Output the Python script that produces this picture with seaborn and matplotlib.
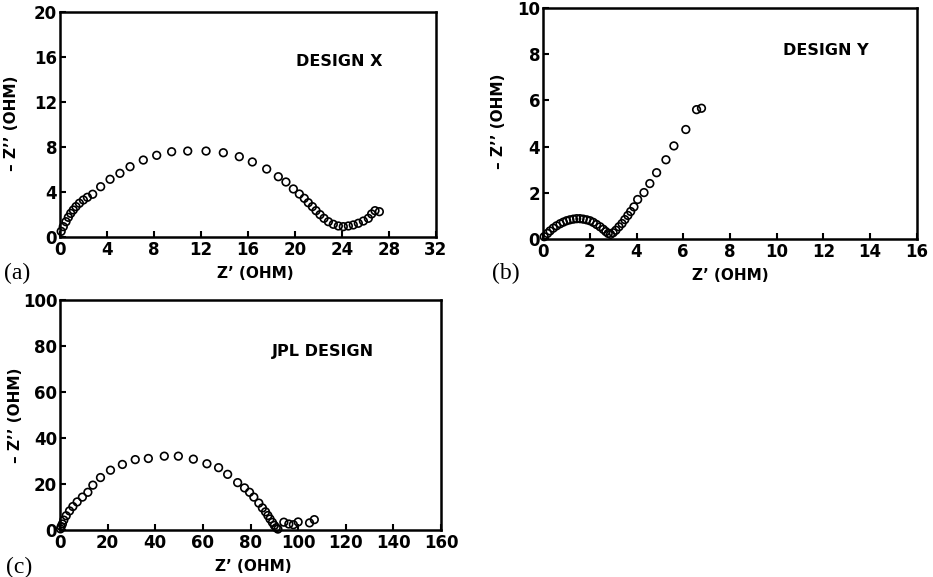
import matplotlib
matplotlib.use("Agg")
import matplotlib.pyplot as plt
import seaborn as sns
import pandas as pd

# ---------------- data ----------------
# (a) DESIGN X
x_a = [0.1, 0.28, 0.51, 0.71, 0.91, 1.13, 1.36, 1.65, 1.99, 2.33, 2.78, 3.46, 4.26,
       5.1, 5.96, 7.09, 8.23, 9.5, 10.87, 12.43, 13.9, 15.26, 16.37, 17.59, 18.58,
       19.23, 19.86, 20.37, 20.79, 21.13, 21.48, 21.79, 22.13, 22.47, 22.84, 23.26,
       23.69, 24.11, 24.54, 24.96, 25.39, 25.82, 26.24, 26.52, 26.81, 27.18]
y_a = [0.5, 0.92, 1.36, 1.75, 2.1, 2.4, 2.7, 3.0, 3.29, 3.53, 3.8, 4.47, 5.13,
       5.66, 6.25, 6.84, 7.26, 7.58, 7.64, 7.64, 7.49, 7.14, 6.67, 6.04, 5.36,
       4.89, 4.27, 3.82, 3.44, 3.05, 2.7, 2.34, 1.99, 1.66, 1.36, 1.13,
       0.98, 0.92, 0.98, 1.07, 1.22, 1.42, 1.66, 2.05, 2.34, 2.25]

# (b) DESIGN Y
x_b = [0.05, 0.19, 0.3, 0.44, 0.58, 0.73, 0.87, 1.01, 1.15, 1.3, 1.44, 1.58, 1.72,
       1.87, 2.01, 2.15, 2.29, 2.44, 2.58, 2.69, 2.79, 2.89, 3.0, 3.12, 3.25,
       3.38, 3.5, 3.63, 3.75, 3.89, 4.05, 4.32, 4.57, 4.86, 5.26, 5.6, 6.11,
       6.57, 6.78]
y_b = [0.1, 0.24, 0.35, 0.47, 0.57, 0.66, 0.73, 0.79, 0.83, 0.86, 0.88, 0.88, 0.86,
       0.83, 0.79, 0.72, 0.63, 0.53, 0.42, 0.32, 0.24, 0.2, 0.27, 0.38, 0.53,
       0.67, 0.84, 1.02, 1.19, 1.39, 1.71, 2.01, 2.4, 2.87, 3.43, 4.03, 4.74,
       5.6, 5.66]

# (c) JPL DESIGN
x_c = [0.2, 0.5, 1.0, 1.6, 2.6, 4.0, 5.4, 7.2, 9.4, 11.7, 13.8, 17.0, 21.2, 26.2,
       31.6, 37.1, 43.8, 49.7, 56.0, 61.7, 66.6, 70.4, 74.6, 77.5, 79.6, 81.4,
       83.5, 85.0, 86.3, 87.3, 88.2, 89.2, 90.0, 90.8, 91.5, 94.0, 96.1, 98.0,
       100.0, 104.8, 106.8]
y_c = [0.5, 1.5, 2.6, 4.3, 6.2, 8.3, 10.2, 12.2, 14.3, 16.4, 19.5, 22.8, 26.0, 28.5,
       30.6, 31.1, 32.1, 32.1, 30.8, 28.8, 27.1, 24.2, 20.6, 18.3, 16.4, 14.3,
       11.7, 9.6, 7.9, 6.3, 4.8, 3.3, 2.0, 1.0, 0.4, 3.4, 2.6, 2.3,
       3.5, 3.1, 4.5]

titles = ["DESIGN X", "DESIGN Y", "JPL DESIGN"]
panel_tags = ["(a)", "(b)", "(c)"]
x_ticks = [list(range(0, 33, 4)), list(range(0, 17, 2)), list(range(0, 161, 20))]
y_ticks = [list(range(0, 21, 4)), list(range(0, 11, 2)), list(range(0, 101, 20))]
x_label = "Z’ (OHM)"
y_label = "– Z’’ (OHM)"

# ---------------- style ----------------
sns.set_style("white")
plt.rcParams["font.family"] = ["DejaVu Sans"]
plt.rcParams["font.weight"] = "bold"
plt.rcParams["text.color"] = "black"
plt.rcParams["axes.labelcolor"] = "black"
plt.rcParams["xtick.color"] = "black"
plt.rcParams["ytick.color"] = "black"

fig = plt.figure(figsize=(9.33, 5.77), dpi=100)

# axes rectangles [left, bottom, width, height] in figure fraction
rects = [
    [60 / 933, 1 - 237 / 577, 376 / 933, 225 / 577],
    [543 / 933, 1 - 239 / 577, 374 / 933, 231 / 577],
    [60 / 933, 1 - 530 / 577, 381 / 933, 230 / 577],
]
title_pos = [(0.743, 0.782), (0.757, 0.818), (0.69, 0.774)]
xlabel_pos = [(0.52, -0.16), (0.50, -0.156), (0.507, -0.157)]
ylabel_pos = [(-0.130, 0.507), (-0.118, 0.51), (-0.118, 0.50)]
tag_pos = [(17, 273), (506, 273), (19, 567)]

datasets = [(x_a, y_a), (x_b, y_b), (x_c, y_c)]

for i, (xs, ys) in enumerate(datasets):
    ax = fig.add_axes(rects[i])
    df = pd.DataFrame({"x": xs, "y": ys})
    sns.scatterplot(data=df, x="x", y="y", ax=ax, marker="o", s=30,
                    facecolor="none", edgecolor="black", linewidth=1.2,
                    legend=False, zorder=3, clip_on=False)
    ax.set_xlim(x_ticks[i][0], x_ticks[i][-1])
    ax.set_ylim(y_ticks[i][0], y_ticks[i][-1])
    ax.set_xticks(x_ticks[i])
    ax.set_yticks(y_ticks[i])
    ax.set_xticklabels([str(v) for v in x_ticks[i]], fontsize=12, fontweight="bold",
                       color="black")
    ax.set_yticklabels([str(v) for v in y_ticks[i]], fontsize=12, fontweight="bold",
                       color="black")
    ax.tick_params(axis="both", direction="in", length=4, width=1.5,
                   color="black", bottom=True, left=True, top=False, right=False)
    ax.tick_params(axis="x", pad=3)
    ax.tick_params(axis="y", pad=2)
    for sp in ax.spines.values():
        sp.set_linewidth(1.8)
        sp.set_color("black")
        sp.set_visible(True)
    ax.set_xlabel(x_label, fontsize=11, fontweight="bold", color="black")
    ax.set_ylabel(y_label, fontsize=11, fontweight="bold", color="black")
    ax.xaxis.set_label_coords(*xlabel_pos[i])
    ax.yaxis.set_label_coords(*ylabel_pos[i])
    ax.xaxis.label.set_verticalalignment("center")
    ax.yaxis.label.set_verticalalignment("center")
    ax.text(title_pos[i][0], title_pos[i][1], titles[i], transform=ax.transAxes,
            ha="center", va="center", fontsize=11.5, fontweight="bold", color="black")
    fig.text(tag_pos[i][0] / 933, 1 - tag_pos[i][1] / 577, panel_tags[i],
             ha="center", va="center", fontsize=17, color="black",
             family=["Liberation Serif", "DejaVu Serif"], fontweight="normal")

fig.savefig("out.png", dpi=100, facecolor="white")
